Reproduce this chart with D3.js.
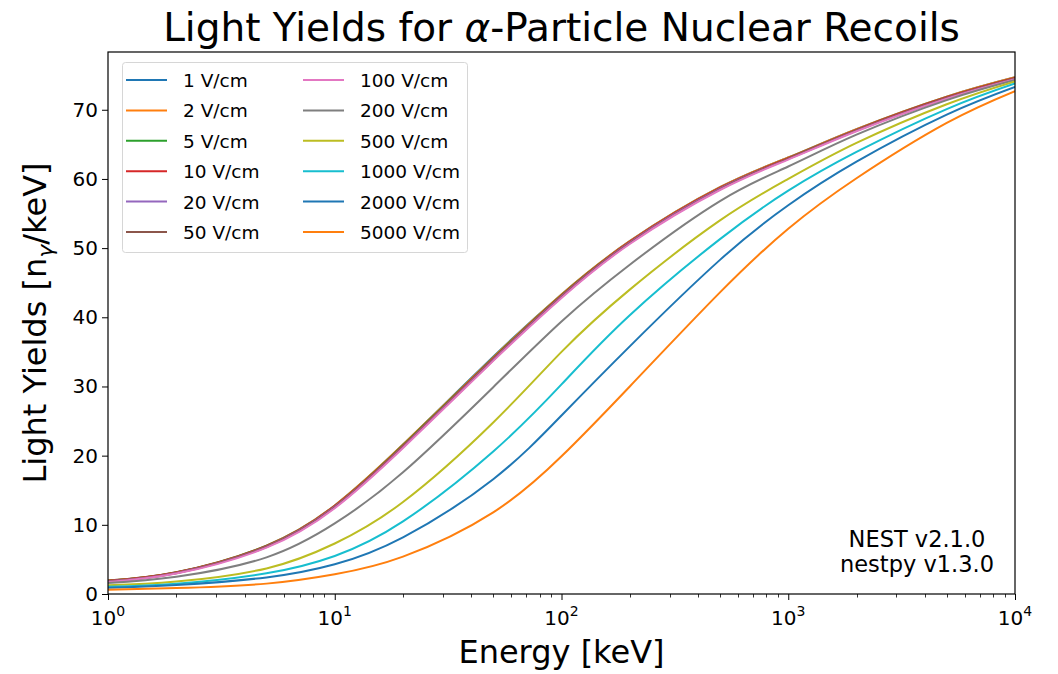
<!DOCTYPE html>
<html>
<head>
<meta charset="utf-8">
<script src="https://cdn.jsdelivr.net/npm/d3@7"></script>
<style>
  html, body { margin: 0; padding: 0; background: #fff; }
  svg { display: block; font-family: "DejaVu Sans", sans-serif; }
</style>
</head>
<body>
<svg id="chart" width="1058" height="674"></svg>
<script>
// Energies sampled (keV)
const energies = [1, 2, 5, 10, 20, 50, 100, 200, 500, 1000, 2000, 5000, 10000];

// Light yield (photons/keV) per drift field
const ly1V    = [1.95, 3.15, 7.0, 12.8, 21.6, 34.3, 43.3, 51.0, 58.8, 63.1, 67.2, 71.9, 74.7];
const ly2V    = [1.95, 3.15, 7.0, 12.8, 21.6, 34.2, 43.3, 51.0, 58.8, 63.1, 67.2, 71.9, 74.7];
const ly5V    = [1.9, 3.1, 6.95, 12.7, 21.5, 34.1, 43.2, 50.9, 58.7, 63.0, 67.1, 71.8, 74.6];
const ly10V   = [1.9, 3.1, 6.9, 12.7, 21.4, 34.0, 43.1, 50.9, 58.7, 63.0, 67.1, 71.8, 74.6];
const ly20V   = [1.85, 3.05, 6.85, 12.6, 21.3, 33.9, 43.0, 50.8, 58.6, 62.9, 67.0, 71.7, 74.5];
const ly50V   = [1.8, 3.0, 6.8, 12.5, 21.2, 33.8, 42.9, 50.7, 58.5, 62.9, 67.0, 71.7, 74.5];
const ly100V  = [1.75, 2.95, 6.7, 12.4, 21.1, 33.7, 42.8, 50.6, 58.4, 62.8, 66.9, 71.6, 74.4];
const ly200V  = [1.6, 2.5, 5.3, 10.2, 17.6, 29.9, 39.4, 47.6, 56.8, 61.8, 66.4, 71.4, 74.3];
const ly500V  = [1.25, 1.8, 3.7, 7.3, 13.3, 24.8, 35.0, 44.0, 54.0, 60.0, 65.2, 70.8, 74.1];
const ly1000V = [1.05, 1.5, 3.0, 5.5, 10.5, 20.6, 30.3, 40.3, 51.3, 58.3, 63.9, 70.1, 73.8];
const ly2000V = [0.9, 1.3, 2.4, 4.3, 8.2, 16.6, 25.8, 35.8, 48.3, 56.2, 62.5, 69.3, 73.3];
const ly5000V = [0.6, 0.85, 1.5, 2.85, 5.4, 11.8, 19.9, 30.0, 43.6, 52.8, 60.1, 68.1, 72.7];

const fieldLabels = ["1 V/cm", "2 V/cm", "5 V/cm", "10 V/cm", "20 V/cm", "50 V/cm",
                     "100 V/cm", "200 V/cm", "500 V/cm", "1000 V/cm", "2000 V/cm", "5000 V/cm"];
const yields = [ly1V, ly2V, ly5V, ly10V, ly20V, ly50V, ly100V, ly200V, ly500V, ly1000V, ly2000V, ly5000V];

const yTicks = [0, 10, 20, 30, 40, 50, 60, 70];
const xTicks = [1, 10, 100, 1000, 10000];

// matplotlib default colour cycle
const palette = ["#1f77b4", "#ff7f0e", "#2ca02c", "#d62728", "#9467bd", "#8c564b",
                 "#e377c2", "#7f7f7f", "#bcbd22", "#17becf"];

const svg = d3.select("#chart");
const plot = { left: 108, right: 1015, top: 52, bottom: 594 };

const x = d3.scaleLog().domain([1, 10000]).range([plot.left, plot.right]);
const y = d3.scaleLinear().domain([0, 78.35]).range([plot.bottom, plot.top]);

// Curves: smooth spline through the sampled energies (log-x pixel space)
const line = d3.line()
  .x(d => x(d[0]))
  .y(d => y(d[1]))
  .curve(d3.curveNatural);

svg.append("clipPath").attr("id", "plotclip")
  .append("rect")
  .attr("x", plot.left).attr("y", plot.top)
  .attr("width", plot.right - plot.left).attr("height", plot.bottom - plot.top);

const curves = svg.append("g").attr("clip-path", "url(#plotclip)");
yields.forEach((vals, i) => {
  curves.append("path")
    .datum(energies.map((e, k) => [e, vals[k]]))
    .attr("d", line)
    .attr("fill", "none")
    .attr("stroke", palette[i % palette.length])
    .attr("stroke-width", 2);
});

// Axes
const xAxis = d3.axisBottom(x)
  .tickValues(xTicks)
  .tickSize(6)
  .tickFormat(() => "");
const gx = svg.append("g")
  .attr("transform", `translate(0,${plot.bottom})`)
  .call(xAxis);
gx.select(".domain").remove();
gx.selectAll(".tick line").attr("stroke", "#000").attr("stroke-width", 1);

// Minor ticks on the log axis
const minor = [];
for (let dec = 1; dec < 10000; dec *= 10) {
  for (let m = 2; m <= 9; m++) minor.push(dec * m);
}
svg.append("g").selectAll("line")
  .data(minor)
  .join("line")
  .attr("x1", d => Math.round(x(d)) + 0.5)
  .attr("x2", d => Math.round(x(d)) + 0.5)
  .attr("y1", plot.bottom)
  .attr("y2", plot.bottom + 3.5)
  .attr("stroke", "#000")
  .attr("stroke-width", 0.8);

// x tick labels as 10^n
const xLabels = svg.append("g").selectAll("text")
  .data(xTicks)
  .join("text")
  .attr("x", d => x(d))
  .attr("y", plot.bottom + 31)
  .attr("text-anchor", "middle")
  .attr("font-size", 20)
  .attr("fill", "#000");
xLabels.append("tspan").text("10");
xLabels.append("tspan")
  .attr("dy", -9)
  .attr("font-size", 14)
  .text(d => Math.round(Math.log10(d)));

const yAxis = d3.axisLeft(y)
  .tickValues(yTicks)
  .tickSize(6)
  .tickPadding(4)
  .tickFormat(d3.format("d"));
const gy = svg.append("g")
  .attr("transform", `translate(${plot.left},0)`)
  .call(yAxis);
gy.select(".domain").remove();
gy.selectAll(".tick line").attr("stroke", "#000");
gy.selectAll(".tick text")
  .attr("font-size", 20)
  .attr("font-family", "DejaVu Sans, sans-serif")
  .attr("fill", "#000");

// Frame
svg.append("rect")
  .attr("x", plot.left).attr("y", plot.top)
  .attr("width", plot.right - plot.left).attr("height", plot.bottom - plot.top)
  .attr("fill", "none")
  .attr("stroke", "#000")
  .attr("stroke-width", 1.2);

// Title
const title = svg.append("text")
  .attr("x", (plot.left + plot.right) / 2)
  .attr("y", 41)
  .attr("text-anchor", "middle")
  .attr("font-size", 39)
  .attr("fill", "#000");
title.append("tspan").text("Light Yields for ");
title.append("tspan").attr("font-style", "italic").text("α");
title.append("tspan").text("-Particle Nuclear Recoils");

// Axis titles
svg.append("text")
  .attr("x", (plot.left + plot.right) / 2)
  .attr("y", 663)
  .attr("text-anchor", "middle")
  .attr("font-size", 32)
  .attr("fill", "#000")
  .text("Energy [keV]");

const yTitle = svg.append("text")
  .attr("transform", `translate(46,${(plot.top + plot.bottom) / 2}) rotate(-90)`)
  .attr("text-anchor", "middle")
  .attr("font-size", 32)
  .attr("fill", "#000");
yTitle.append("tspan").text("Light Yields [n");
yTitle.append("tspan").attr("font-size", 22).attr("font-style", "italic").attr("dy", 7).text("γ");
yTitle.append("tspan").attr("dy", -7).text("/keV]");

// Version note
const note = svg.append("text")
  .attr("text-anchor", "middle")
  .attr("font-size", 22.5)
  .attr("fill", "#000");
note.append("tspan").attr("x", 917).attr("y", 547).text("NEST v2.1.0");
note.append("tspan").attr("x", 917).attr("y", 572).text("nestpy v1.3.0");

// Legend
const legend = svg.append("g");
legend.append("rect")
  .attr("x", 122.5).attr("y", 62.5)
  .attr("width", 345).attr("height", 190)
  .attr("rx", 3)
  .attr("fill", "#fff")
  .attr("fill-opacity", 0.8)
  .attr("stroke", "#d6d6d6");
const rowsPerCol = 6;
const colX = [126, 303];
const rowY0 = 80, rowStep = 30.4;
fieldLabels.forEach((lab, i) => {
  const col = Math.floor(i / rowsPerCol);
  const row = i % rowsPerCol;
  const ly = rowY0 + row * rowStep;
  legend.append("line")
    .attr("x1", colX[col]).attr("x2", colX[col] + 41)
    .attr("y1", ly).attr("y2", ly)
    .attr("stroke", palette[i % palette.length])
    .attr("stroke-width", 2);
  legend.append("text")
    .attr("x", colX[col] + 57)
    .attr("y", ly + 7)
    .attr("font-size", 18.5)
    .attr("fill", "#000")
    .text(lab);
});
</script>
</body>
</html>
